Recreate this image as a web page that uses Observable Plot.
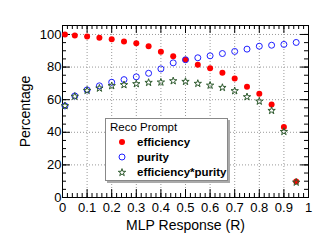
<!DOCTYPE html>
<html><head><meta charset="utf-8">
<script src="https://cdn.jsdelivr.net/npm/d3@7"></script>
<script src="https://cdn.jsdelivr.net/npm/@observablehq/plot@0.6"></script>
<style>
body{margin:0;background:#fff;font-family:"Liberation Sans",Arial,sans-serif;}
#wrap{position:relative;width:315px;height:247px;}
#legend{position:absolute;left:105px;top:118px;width:121px;height:61px;background:#fff;border:1px solid #888;box-shadow:2px 2px 0 #aaa;font-size:11.5px;color:#000;}
#legend .row{position:absolute;left:0;height:14px;line-height:14px;white-space:nowrap;}
#legend svg{position:absolute;left:9px;top:0;}
#legend .lbl{position:absolute;left:31px;font-weight:bold;}
</style></head>
<body><div id="wrap"></div>
<script>
const xs = [0.01,0.05,0.10,0.15,0.20,0.25,0.30,0.35,0.40,0.45,0.50,0.55,0.60,0.65,0.70,0.75,0.80,0.85,0.90,0.95];
const efficiency = [100,99.4,98.8,98.0,97.0,95.7,94.6,92.8,89.4,86.7,84.5,81.4,79.3,76.5,73.0,68.0,63.7,57.0,43.3,9.8];
const purity = [56.2,62.3,66.0,68.5,70.7,72.3,74.0,76.2,78.9,82.6,84.5,85.7,86.9,88.3,89.6,91.0,92.8,93.4,93.9,95.1];
const product = [56.2,62.0,65.6,67.0,68.5,69.1,69.7,70.5,70.7,71.5,71.1,69.9,68.8,67.4,65.4,61.7,59.0,53.3,40.4,9.3];
const xTicks = [0,0.1,0.2,0.3,0.4,0.5,0.6,0.7,0.8,0.9,1];
const xTickLabels = ["0","0.1","0.2","0.3","0.4","0.5","0.6","0.7","0.8","0.9","1"];
const yTicks = [0,20,40,60,80,100];
const legendTitle = "Reco Prompt";
const seriesNames = ["efficiency","purity","efficiency*purity"];

const xMinor = d3.range(0,1.0001,0.02);
const yMinor = d3.range(0,105,5);
const yMax = 105.5;
const W=315,H=247,mT=25,mB=50,mL=62,mR=7;
const ph = H-mT-mB, pw = W-mL-mR;
const grid = {stroke:"#999",strokeDasharray:"1,2",strokeWidth:1,strokeOpacity:1};
const rows = xs.map((x,i)=>({x,e:efficiency[i],p:purity[i],ep:product[i]}));

const chart = Plot.plot({
  width:W,height:H,marginTop:mT,marginBottom:mB,marginLeft:mL,marginRight:mR,
  style:{fontFamily:"Liberation Sans, Arial, sans-serif",fontSize:"13px",background:"#fff",color:"#000"},
  x:{domain:[0,1]},
  y:{domain:[0,yMax]},
  marks:[
    Plot.ruleX(xTicks.slice(1,-1),{...grid}),
    Plot.ruleY(yTicks.slice(1),{...grid}),
    Plot.ruleX(xMinor,{insetTop:ph-4,stroke:"#000"}),
    Plot.ruleX(xMinor,{insetBottom:ph-4,stroke:"#000"}),
    Plot.ruleY(yMinor,{insetRight:pw-4,stroke:"#000"}),
    Plot.ruleY(yMinor,{insetLeft:pw-4,stroke:"#000"}),
    Plot.ruleX(xTicks,{insetTop:ph-8,stroke:"#000"}),
    Plot.ruleX(xTicks,{insetBottom:ph-8,stroke:"#000"}),
    Plot.ruleY(yTicks,{insetRight:pw-8,stroke:"#000"}),
    Plot.ruleY(yTicks,{insetLeft:pw-8,stroke:"#000"}),
    Plot.frame({stroke:"#000",strokeWidth:1}),
    Plot.axisX(xTicks,{tickSize:0,tickPadding:5,tickFormat:(d,i)=>xTickLabels[i],fontSize:13,label:null}),
    Plot.axisX({ticks:[],tickSize:0,fontSize:14,label:"MLP Response (R)",labelAnchor:"center",labelArrow:"none",labelOffset:32}),
    Plot.axisY(yTicks,{tickSize:0,tickPadding:1,fontSize:13,label:null}),
    Plot.axisY({ticks:[],tickSize:0,fontSize:14,label:"Percentage",labelAnchor:"center",labelArrow:"none",labelOffset:42}),
    Plot.dot(rows,{x:"x",y:"e",r:3,fill:"#ff0000",stroke:"none"}),
    Plot.dot(rows,{x:"x",y:"p",r:3,fill:"none",stroke:"#2020ff",strokeWidth:1}),
    Plot.dot(rows,{x:"x",y:"ep",symbol:"star",r:2.3,fill:"none",stroke:"#2e5a2e",strokeWidth:1})
  ]
});
const wrap = document.getElementById("wrap");
wrap.appendChild(chart);

const lg = document.createElement("div");
lg.id="legend";
let html = `<div class="row" style="left:4px;top:1px;">${legendTitle}</div>`;
const syms = [
  `<circle cx="7" cy="7" r="3" fill="#ff0000"/>`,
  `<circle cx="7" cy="7" r="3" fill="none" stroke="#2020ff"/>`,
  `<path d="${d3.symbol(d3.symbolStar, 17)()}" transform="translate(7,7.5)" fill="none" stroke="#2e5a2e" stroke-width="1"/>`
];
seriesNames.forEach((n,i)=>{
  html += `<div class="row" style="left:0;top:${16+i*15}px;width:120px;"><svg width="14" height="14">${syms[i]}</svg><span class="lbl">${n}</span></div>`;
});
lg.innerHTML = html;
wrap.appendChild(lg);
</script></body></html>
